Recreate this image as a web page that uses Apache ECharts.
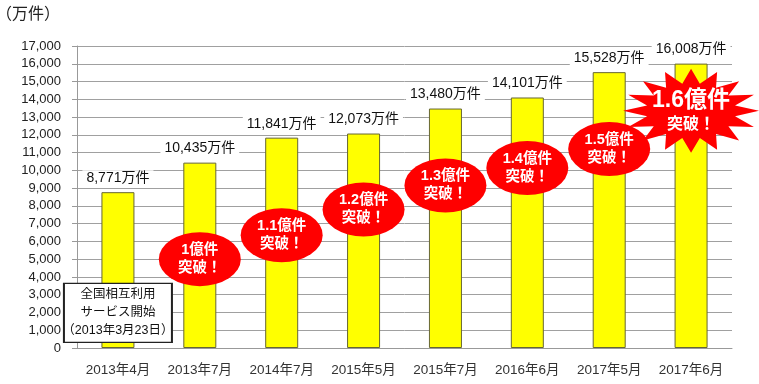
<!DOCTYPE html>
<html><head><meta charset="utf-8">
<script src="https://cdn.jsdelivr.net/npm/echarts@6/dist/echarts.min.js"></script>
<style>html,body{margin:0;padding:0;background:#fff}#c{width:759px;height:384px}</style>
</head><body><div id="c"></div>
<script>
const categories = ['2013年4月','2013年7月','2014年7月','2015年5月','2015年7月','2016年6月','2017年5月','2017年6月'];
const values = [8771, 10435, 11841, 12073, 13480, 14101, 15528, 16008];
const badgeIndex = [1, 2, 3, 4, 5, 6];
const badgeValue = [5000, 6350, 7800, 9150, 10130, 11200];
const badgeText = ['1億件', '1.1億件', '1.2億件', '1.3億件', '1.4億件', '1.5億件'];
const starIndex = 7, starValue = 13350, starText = '1.6億件';
const noteIndex = 0, noteValue = 1980;
const noteLines = ['全国相互利用', 'サービス開始', '（2013年3月23日）'];
const yTicks = {min: 0, max: 17000, interval: 1000};

// starburst shape
let pts = [];
const N = 16;
for (let i = 0; i < 2 * N; i++) {
  const a = i * Math.PI / N - Math.PI / 2;
  const r = i % 2 === 0 ? 100 : 66;
  pts.push((100 + r * Math.cos(a)).toFixed(1) + ' ' + (100 + r * Math.sin(a)).toFixed(1));
}
const starPath = 'path://M' + pts.join(' L') + ' Z';

const font = '"Liberation Sans", "Noto Sans CJK JP", sans-serif';
const cjk = '"Noto Sans CJK JP", "Noto Sans", sans-serif';
const chart = echarts.init(document.getElementById('c'));
chart.setOption({
  animation: false,
  textStyle: {fontFamily: font},
  grid: {left: 77, right: 27, top: 46, bottom: 36},
  graphic: [{type: 'text', left: -4, top: 5, style: {text: '（万件）', font: '16px ' + cjk, fill: '#222'}}],
  xAxis: {
    type: 'category', data: categories,
    axisLine: {show: true, lineStyle: {color: '#999'}},
    axisTick: {show: false},
    axisLabel: {interval: 0, color: '#333', fontSize: 13.5, margin: 16, fontFamily: font}
  },
  yAxis: {
    type: 'value', min: yTicks.min, max: yTicks.max, interval: yTicks.interval,
    axisLine: {show: true, lineStyle: {color: '#999'}},
    axisTick: {show: true, length: 5, lineStyle: {color: '#999'}},
    splitLine: {lineStyle: {color: '#a0a0a0'}},
    axisLabel: {color: '#222', fontSize: 13, margin: 16, fontFamily: font,
      formatter: v => v.toLocaleString('en-US')}
  },
  series: [
    {
      type: 'bar', data: values, barWidth: 33,
      itemStyle: {color: '#ffff00', borderColor: '#666633', borderWidth: 1},
      label: {show: true, position: 'top', distance: 6, color: '#111', fontSize: 14, fontFamily: font,
        backgroundColor: '#fff', padding: [1, 4],
        formatter: p => p.value.toLocaleString('en-US') + '万件'},
      z: 2
    },
    {
      type: 'scatter', z: 5,
      data: badgeIndex.map((x, i) => [x, badgeValue[i], badgeText[i]]),
      symbol: 'circle', symbolSize: [82, 54],
      itemStyle: {color: '#ff0000', opacity: 1},
      label: {show: true, position: 'inside', color: '#fff', fontWeight: 'bold', fontSize: 14.5, lineHeight: 18,
        fontFamily: font, formatter: p => p.data[2] + '\n突破！'}
    },
    {
      type: 'scatter', z: 6,
      data: [[starIndex, starValue, starText]],
      symbol: starPath, symbolSize: [136, 84], symbolKeepAspect: false,
      itemStyle: {color: '#ff0000', opacity: 1},
      label: {show: true, position: 'inside', color: '#fff', fontWeight: 'bold',
        formatter: p => '{a|' + p.data[2] + '}\n{b|突破！}',
        rich: {a: {fontSize: 23, fontWeight: 'bold', color: '#fff', lineHeight: 27, fontFamily: font},
               b: {fontSize: 16, fontWeight: 'bold', color: '#fff', lineHeight: 20, fontFamily: font}}}
    },
    {
      type: 'scatter', z: 7,
      data: [[noteIndex, noteValue]],
      symbol: 'rect', symbolSize: [108, 59],
      itemStyle: {color: '#fff', borderColor: '#222', borderWidth: 1.5, opacity: 1},
      label: {show: true, position: 'inside', color: '#111', fontSize: 12.5, lineHeight: 18, fontFamily: font,
        formatter: () => noteLines.join('\n')}
    }
  ]
});
</script></body></html>
